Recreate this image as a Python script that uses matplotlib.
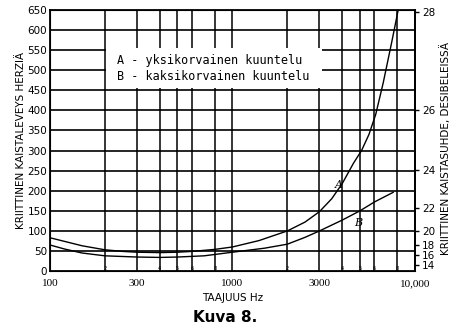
import matplotlib
matplotlib.use("Agg")
import matplotlib.pyplot as plt
from matplotlib.patches import Rectangle

# curve A: yksikorvainen kuuntelu, curve B: kaksikorvainen kuuntelu
freq_a = [100, 120, 150, 200, 250, 300, 400, 500, 600, 800, 1000, 1400, 2000, 2500,
          3000, 3500, 4000, 4600, 5100, 5600, 6100, 6700, 7450, 8100]
band_a = [83, 74, 63, 53, 49, 47, 46, 47, 49, 54, 60, 76, 100, 122,
          148, 180, 218, 268, 300, 340, 390, 468, 568, 650]
freq_b = [100, 120, 150, 200, 300, 400, 500, 700, 1000, 1500, 2000, 2500, 3000,
          4000, 5000, 6000, 7600]
band_b = [65, 55, 45, 38, 35, 34, 35, 38, 47, 57, 67, 84, 100,
          127, 150, 172, 196]

x_major = [100, 300, 1000, 3000, 10000]
x_major_labels = ["100", "300", "1000", "3000", "10,000"]
x_minor = [200, 400, 500, 600, 800, 2000, 4000, 5000, 6000, 8000]
x_minor_labels = ["2", "4", "5", "6", "8", "2", "4", "5", "6", "8"]
y_ticks = list(range(0, 651, 50))
# right-hand scale (dB) and where its marks sit on the left scale
db_labels = ["14", "16", "18", "20", "22", "24", "26", "28"]
db_pos = [16, 40, 64, 100, 158, 251, 400, 645]

fig = plt.figure(figsize=(4.5, 3.31), dpi=100)
ax = fig.add_axes([0.111, 0.181, 0.811, 0.789])

ax.set_xscale("log")
ax.set_xlim(100, 10000)
ax.set_ylim(0, 650)

# grid
for f in x_major[1:-1] + x_minor:
    ax.axvline(f, color="k", lw=1.1, zorder=1)
for v in y_ticks[1:-1]:
    ax.axhline(v, color="k", lw=1.2, zorder=1)

ax.plot(freq_a, band_a, color="k", lw=1.0, zorder=3)
ax.plot(freq_b, band_b, color="k", lw=1.0, zorder=3)
ax.text(3650, 208, "A", fontsize=8, style="italic", family="serif", zorder=4)
ax.text(4650, 112, "B", fontsize=8, style="italic", family="serif", zorder=4)

# legend box
ax.add_patch(Rectangle((0.153, 0.70), 0.592, 0.155, transform=ax.transAxes,
                       facecolor="white", edgecolor="none", zorder=2))
ax.text(0.184, 0.805, "A - yksikorvainen kuuntelu", transform=ax.transAxes,
        family="DejaVu Sans Mono", fontsize=8.5, va="center", zorder=4)
ax.text(0.184, 0.745, "B - kaksikorvainen kuuntelu", transform=ax.transAxes,
        family="DejaVu Sans Mono", fontsize=8.5, va="center", zorder=4)

ax.set_xticks(x_major)
ax.set_xticklabels(x_major_labels, family="Liberation Serif", fontsize=8)
ax.set_xticks(x_minor, minor=True)
ax.set_xticklabels(x_minor_labels, minor=True, fontsize=3.5)
ax.set_yticks(y_ticks)
ax.tick_params(axis="y", labelsize=7.5, length=0, pad=2)
ax.tick_params(axis="x", which="major", length=0, pad=6)
ax.tick_params(axis="x", which="minor", length=0, pad=-4)

for s in ax.spines.values():
    s.set_linewidth(1.3)

ax.set_xlabel("TAAJUUS Hz", fontsize=7.5, labelpad=3)
ax.set_ylabel("KRIITTINEN KAISTALEVEYS HERZIÄ", fontsize=7.5, labelpad=1)

ax2 = ax.twinx()
ax2.set_ylim(0, 650)
ax2.set_yticks(db_pos)
ax2.set_yticklabels(db_labels, fontsize=7.5)
ax2.tick_params(axis="y", length=3, width=1, pad=2)
ax2.spines["right"].set_linewidth(1.3)
fig.text(0.99, 0.55, "KRIITTINEN KAISTASUHDE, DESIBELEISSÄ", rotation=90,
         fontsize=7.5, ha="center", va="center")

fig.text(0.50, 0.04, "Kuva 8.", fontsize=11, fontweight="bold",
         ha="center", va="center")

fig.savefig("out.png", dpi=100)
